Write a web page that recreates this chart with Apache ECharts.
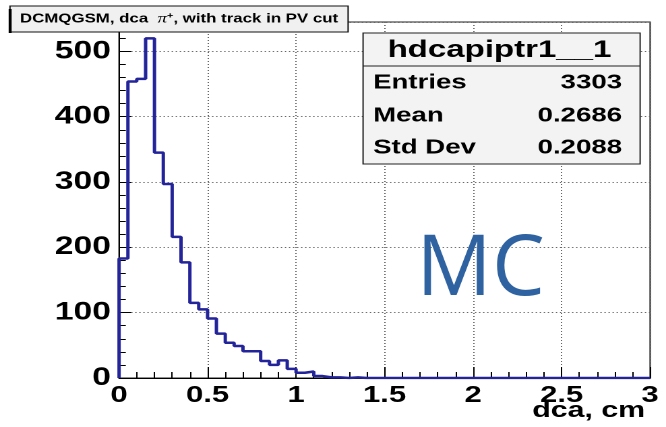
<!DOCTYPE html>
<html>
<head>
<meta charset="utf-8">
<script src="https://cdn.jsdelivr.net/npm/echarts@6/dist/echarts.min.js"></script>
<style>
  html, body { margin: 0; padding: 0; background: #fff; overflow: hidden; }
  #wrap { width: 666px; height: 427px; overflow: hidden; position: relative; }
  /* the ROOT-style canvas is drawn narrow and widened horizontally */
  #chart { width: 494px; height: 427px; transform: scaleX(1.3482); transform-origin: 0 0; }
</style>
</head>
<body>
<div id="wrap"><div id="chart"></div></div>
<script>
// horizontal widening applied to the canvas
const SX = 666 / 494;

// histogram binning: dca in cm, 60 bins of 0.05 over [0, 3]
const binWidth = 0.05;
const xRange = [0, 3];
const yRange = [0, 545];

// counts per bin
const counts = [
  183, 454, 458, 520, 345, 297, 216, 177, 115, 105,
   91,  68,  54,  49,  41,  41,  26,  20,  27,  14,
    8,  10,   3,   1,   1,   0,   1,   0,   0,   0,
    0,   0,   0,   0,   0,   0,   0,   0,   0,   0,
    0,   0,   0,   0,   0,   0,   0,   0,   0,   0,
    0,   0,   0,   0,   0,   0,   0,   0,   0,   0
];

// statistics box
const histName = 'hdcapiptr1__1';
const statLabels = ['Entries', 'Mean', 'Std Dev'];
const statValues = ['3303', '0.2686', '0.2088'];

const xTitle = 'dca, cm';
const annotation = 'MC';

// outline points of the histogram (left edge of each bin, closed at both ends)
const outline = [[xRange[0], 0]];
counts.forEach((c, i) => outline.push([+(i * binWidth).toFixed(2), c]));
outline.push([xRange[1], counts[counts.length - 1]]);
outline.push([xRange[1], 0]);

const boldFont = '"Liberation Sans", Arial, Helvetica, sans-serif';
const chart = echarts.init(document.getElementById('chart'), null, { renderer: 'canvas', devicePixelRatio: 2 });

const statRowsY = [83, 116, 148];
const statGraphics = [];
statLabels.forEach((lab, i) => {
  statGraphics.push({
    type: 'text', x: 276.7, y: statRowsY[i], z: 110,
    style: { text: lab, font: 'bold 20.5px ' + boldFont, fill: '#000', align: 'left', verticalAlign: 'middle' }
  });
  statGraphics.push({
    type: 'text', x: 461.4, y: statRowsY[i], z: 110,
    style: { text: statValues[i], font: 'bold 20.5px ' + boldFont, fill: '#000', align: 'right', verticalAlign: 'middle' }
  });
});

chart.setOption({
  animation: false,
  backgroundColor: '#fff',
  grid: {
    left: 88.3, right: 11.8, top: 22, bottom: 49,
    show: true, borderColor: '#222', borderWidth: 1, backgroundColor: 'transparent'
  },
  xAxis: {
    type: 'value', min: xRange[0], max: xRange[1], interval: 0.5,
    axisLine: { onZero: false, lineStyle: { color: '#000', width: 1 } },
    axisTick: { inside: true, length: 11, lineStyle: { color: '#000', width: 1 } },
    minorTick: { show: true, splitNumber: 5, length: 6, lineStyle: { color: '#000', width: 1 } },
    splitLine: { show: true, lineStyle: { color: '#666', width: 1, type: [1, 2] } },
    axisLabel: { color: '#000', fontFamily: boldFont, fontWeight: 'bold', fontSize: 23, margin: 6 }
  },
  yAxis: {
    type: 'value', min: yRange[0], max: yRange[1], interval: 100,
    axisLine: { show: true, lineStyle: { color: '#000', width: 1 } },
    axisTick: { inside: true, length: 9, lineStyle: { color: '#000', width: 1 } },
    minorTick: { show: true, splitNumber: 5, length: 5, lineStyle: { color: '#000', width: 1 } },
    splitLine: { show: true, lineStyle: { color: '#666', width: 1, type: [1, 2] } },
    axisLabel: {
      color: '#000', fontFamily: boldFont, fontWeight: 'bold', fontSize: 25, margin: 6,
      formatter: v => (v % 100 === 0 ? String(v) : '')
    }
  },
  series: [{
    type: 'line', step: 'end', data: outline, symbol: 'none', z: 5,
    lineStyle: { color: '#23239a', width: 2.5 }
  }],
  graphic: [
    // title pave
    { type: 'rect', z: 100, shape: { x: 7.4, y: 6, width: 250.8, height: 26 },
      style: { fill: '#f0f0f0', stroke: '#111', lineWidth: 1 } },
    { type: 'rect', z: 101, shape: { x: 6.4, y: 9, width: 2.2, height: 24 }, style: { fill: '#000' } },
    { type: 'text', z: 102, x: 14.8, y: 19,
      style: {
        text: '{a|DCMQGSM, dca  }{p|π}{s|+}{a|, with track in PV cut}',
        verticalAlign: 'middle', align: 'left',
        rich: {
          a: { font: 'bold 12.5px ' + boldFont, fill: '#000' },
          p: { font: 'italic 14px "Liberation Serif", serif', fill: '#000' },
          s: { font: 'bold 8px ' + boldFont, fill: '#000', verticalAlign: 'top', padding: [0, 0, 5, 0] }
        }
      } },
    // statistics pave
    { type: 'rect', z: 100, shape: { x: 269.3, y: 33, width: 205.5, height: 131 },
      style: { fill: '#f3f3f3', stroke: '#222', lineWidth: 1 } },
    { type: 'line', z: 101, shape: { x1: 269.3, y1: 66, x2: 474.8, y2: 66 },
      style: { stroke: '#222', lineWidth: 1 } },
    { type: 'text', z: 110, x: 370.5, y: 50,
      style: { text: histName, font: 'bold 24.5px ' + boldFont, fill: '#000', align: 'center', verticalAlign: 'middle' } },
    ...statGraphics,
    // axis title
    { type: 'text', z: 110, x: 478.5, y: 411,
      style: { text: xTitle, font: 'bold 22.5px ' + boldFont, fill: '#000', align: 'right', verticalAlign: 'middle' } },
    // annotation, drawn at natural proportions
    { type: 'text', z: 120, x: 308.8, y: 271, scaleX: 1 / SX,
      style: { text: annotation, font: '84px "Open Sans", "Noto Sans", sans-serif', fill: '#2e62a0', align: 'left', verticalAlign: 'middle' } }
  ]
});
</script>
</body>
</html>
